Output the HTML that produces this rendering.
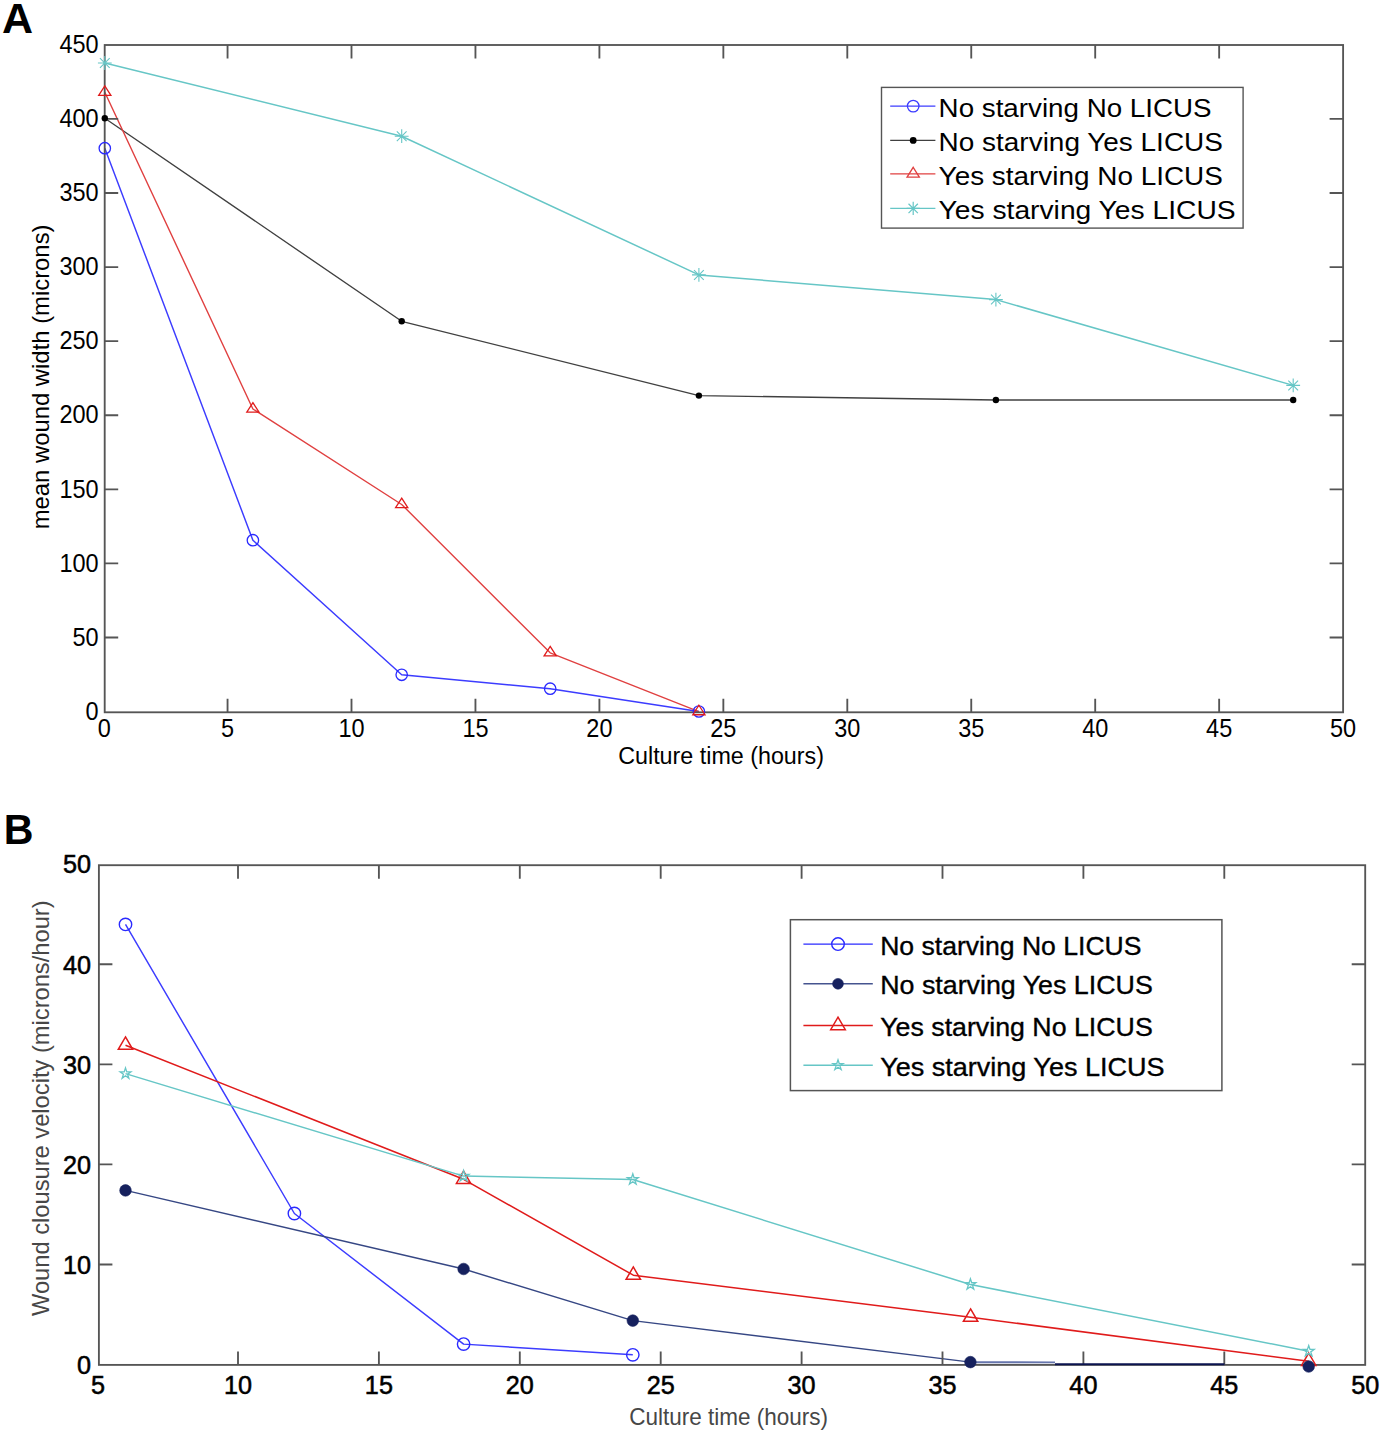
<!DOCTYPE html>
<html><head><meta charset="utf-8"><title>Wound closure charts</title>
<style>
html,body{margin:0;padding:0;background:#fff;width:1382px;height:1433px;overflow:hidden;}
svg{display:block;}
text{font-family:"Liberation Sans",sans-serif;}
</style></head><body>
<svg width="1382" height="1433" viewBox="0 0 1382 1433" font-family="Liberation Sans, sans-serif">
<rect x="0" y="0" width="1382" height="1433" fill="#ffffff"/>
<polyline points="104.80,148.20 252.90,540.20 401.70,674.80 550.20,688.70 698.90,711.50" fill="none" stroke="#3c3cff" stroke-width="1.45" stroke-linejoin="round"/>
<polyline points="104.80,118.20 401.70,321.30 698.90,395.60 995.90,400.00 1293.20,400.00" fill="none" stroke="#404040" stroke-width="1.35" stroke-linejoin="round"/>
<polyline points="104.80,92.20 252.90,409.00 401.70,504.50 550.20,652.80 698.90,711.60" fill="none" stroke="#e04040" stroke-width="1.4" stroke-linejoin="round"/>
<polyline points="104.80,63.00 401.70,136.20 698.90,274.90 995.90,299.60 1293.20,385.40" fill="none" stroke="#66c6c6" stroke-width="1.5" stroke-linejoin="round"/>
<rect x="104.7" y="45.0" width="1238.40" height="667.30" fill="none" stroke="#555555" stroke-width="1.85"/>
<path d="M227.55,712.3V698.80M227.55,45.0V58.50" stroke="#555555" stroke-width="1.85"/>
<path d="M351.50,712.3V698.80M351.50,45.0V58.50" stroke="#555555" stroke-width="1.85"/>
<path d="M475.45,712.3V698.80M475.45,45.0V58.50" stroke="#555555" stroke-width="1.85"/>
<path d="M599.40,712.3V698.80M599.40,45.0V58.50" stroke="#555555" stroke-width="1.85"/>
<path d="M723.35,712.3V698.80M723.35,45.0V58.50" stroke="#555555" stroke-width="1.85"/>
<path d="M847.30,712.3V698.80M847.30,45.0V58.50" stroke="#555555" stroke-width="1.85"/>
<path d="M971.25,712.3V698.80M971.25,45.0V58.50" stroke="#555555" stroke-width="1.85"/>
<path d="M1095.20,712.3V698.80M1095.20,45.0V58.50" stroke="#555555" stroke-width="1.85"/>
<path d="M1219.15,712.3V698.80M1219.15,45.0V58.50" stroke="#555555" stroke-width="1.85"/>
<path d="M104.7,637.51H118.20M1343.1,637.51H1329.60" stroke="#555555" stroke-width="1.85"/>
<path d="M104.7,563.42H118.20M1343.1,563.42H1329.60" stroke="#555555" stroke-width="1.85"/>
<path d="M104.7,489.33H118.20M1343.1,489.33H1329.60" stroke="#555555" stroke-width="1.85"/>
<path d="M104.7,415.24H118.20M1343.1,415.24H1329.60" stroke="#555555" stroke-width="1.85"/>
<path d="M104.7,341.15H118.20M1343.1,341.15H1329.60" stroke="#555555" stroke-width="1.85"/>
<path d="M104.7,267.06H118.20M1343.1,267.06H1329.60" stroke="#555555" stroke-width="1.85"/>
<path d="M104.7,192.97H118.20M1343.1,192.97H1329.60" stroke="#555555" stroke-width="1.85"/>
<path d="M104.7,118.88H118.20M1343.1,118.88H1329.60" stroke="#555555" stroke-width="1.85"/>
<circle cx="104.80" cy="148.20" r="5.7" fill="none" stroke="#2a2aff" stroke-width="1.3"/>
<circle cx="252.90" cy="540.20" r="5.7" fill="none" stroke="#2a2aff" stroke-width="1.3"/>
<circle cx="401.70" cy="674.80" r="5.7" fill="none" stroke="#2a2aff" stroke-width="1.3"/>
<circle cx="550.20" cy="688.70" r="5.7" fill="none" stroke="#2a2aff" stroke-width="1.3"/>
<circle cx="698.90" cy="711.50" r="5.7" fill="none" stroke="#2a2aff" stroke-width="1.3"/>
<circle cx="104.80" cy="118.20" r="3.2" fill="#000" stroke="none"/>
<circle cx="401.70" cy="321.30" r="3.2" fill="#000" stroke="none"/>
<circle cx="698.90" cy="395.60" r="3.2" fill="#000" stroke="none"/>
<circle cx="995.90" cy="400.00" r="3.2" fill="#000" stroke="none"/>
<circle cx="1293.20" cy="400.00" r="3.2" fill="#000" stroke="none"/>
<path d="M104.80,85.85 L110.90,95.37 L98.70,95.37 Z" fill="none" stroke="#e01b1b" stroke-width="1.3" stroke-linejoin="miter"/>
<path d="M252.90,402.65 L259.00,412.17 L246.80,412.17 Z" fill="none" stroke="#e01b1b" stroke-width="1.3" stroke-linejoin="miter"/>
<path d="M401.70,498.15 L407.80,507.67 L395.60,507.67 Z" fill="none" stroke="#e01b1b" stroke-width="1.3" stroke-linejoin="miter"/>
<path d="M550.20,646.45 L556.30,655.97 L544.10,655.97 Z" fill="none" stroke="#e01b1b" stroke-width="1.3" stroke-linejoin="miter"/>
<path d="M698.90,705.25 L705.00,714.77 L692.80,714.77 Z" fill="none" stroke="#e01b1b" stroke-width="1.3" stroke-linejoin="miter"/>
<path d="M97.90,63.00H111.70M104.80,56.10V69.90M99.92,58.12L109.68,67.88M99.92,67.88L109.68,58.12" stroke="#66c6c6" stroke-width="1.1" fill="none"/>
<path d="M394.80,136.20H408.60M401.70,129.30V143.10M396.82,131.32L406.58,141.08M396.82,141.08L406.58,131.32" stroke="#66c6c6" stroke-width="1.1" fill="none"/>
<path d="M692.00,274.90H705.80M698.90,268.00V281.80M694.02,270.02L703.78,279.78M694.02,279.78L703.78,270.02" stroke="#66c6c6" stroke-width="1.1" fill="none"/>
<path d="M989.00,299.60H1002.80M995.90,292.70V306.50M991.02,294.72L1000.78,304.48M991.02,304.48L1000.78,294.72" stroke="#66c6c6" stroke-width="1.1" fill="none"/>
<path d="M1286.30,385.40H1300.10M1293.20,378.50V392.30M1288.32,380.52L1298.08,390.28M1288.32,390.28L1298.08,380.52" stroke="#66c6c6" stroke-width="1.1" fill="none"/>
<text x="0" y="0" transform="translate(104.30,737.20) scale(0.94,1)" font-size="25" text-anchor="middle" fill="#000" font-weight="normal" >0</text>
<text x="0" y="0" transform="translate(227.55,737.20) scale(0.94,1)" font-size="25" text-anchor="middle" fill="#000" font-weight="normal" >5</text>
<text x="0" y="0" transform="translate(351.50,737.20) scale(0.94,1)" font-size="25" text-anchor="middle" fill="#000" font-weight="normal" >10</text>
<text x="0" y="0" transform="translate(475.45,737.20) scale(0.94,1)" font-size="25" text-anchor="middle" fill="#000" font-weight="normal" >15</text>
<text x="0" y="0" transform="translate(599.40,737.20) scale(0.94,1)" font-size="25" text-anchor="middle" fill="#000" font-weight="normal" >20</text>
<text x="0" y="0" transform="translate(723.35,737.20) scale(0.94,1)" font-size="25" text-anchor="middle" fill="#000" font-weight="normal" >25</text>
<text x="0" y="0" transform="translate(847.30,737.20) scale(0.94,1)" font-size="25" text-anchor="middle" fill="#000" font-weight="normal" >30</text>
<text x="0" y="0" transform="translate(971.25,737.20) scale(0.94,1)" font-size="25" text-anchor="middle" fill="#000" font-weight="normal" >35</text>
<text x="0" y="0" transform="translate(1095.20,737.20) scale(0.94,1)" font-size="25" text-anchor="middle" fill="#000" font-weight="normal" >40</text>
<text x="0" y="0" transform="translate(1219.15,737.20) scale(0.94,1)" font-size="25" text-anchor="middle" fill="#000" font-weight="normal" >45</text>
<text x="0" y="0" transform="translate(1343.10,737.20) scale(0.94,1)" font-size="25" text-anchor="middle" fill="#000" font-weight="normal" >50</text>
<text x="0" y="0" transform="translate(98.60,719.80) scale(0.94,1)" font-size="25" text-anchor="end" fill="#000" font-weight="normal" >0</text>
<text x="0" y="0" transform="translate(98.60,645.71) scale(0.94,1)" font-size="25" text-anchor="end" fill="#000" font-weight="normal" >50</text>
<text x="0" y="0" transform="translate(98.60,571.62) scale(0.94,1)" font-size="25" text-anchor="end" fill="#000" font-weight="normal" >100</text>
<text x="0" y="0" transform="translate(98.60,497.53) scale(0.94,1)" font-size="25" text-anchor="end" fill="#000" font-weight="normal" >150</text>
<text x="0" y="0" transform="translate(98.60,423.44) scale(0.94,1)" font-size="25" text-anchor="end" fill="#000" font-weight="normal" >200</text>
<text x="0" y="0" transform="translate(98.60,349.35) scale(0.94,1)" font-size="25" text-anchor="end" fill="#000" font-weight="normal" >250</text>
<text x="0" y="0" transform="translate(98.60,275.26) scale(0.94,1)" font-size="25" text-anchor="end" fill="#000" font-weight="normal" >300</text>
<text x="0" y="0" transform="translate(98.60,201.17) scale(0.94,1)" font-size="25" text-anchor="end" fill="#000" font-weight="normal" >350</text>
<text x="0" y="0" transform="translate(98.60,127.08) scale(0.94,1)" font-size="25" text-anchor="end" fill="#000" font-weight="normal" >400</text>
<text x="0" y="0" transform="translate(98.60,52.99) scale(0.94,1)" font-size="25" text-anchor="end" fill="#000" font-weight="normal" >450</text>
<text x="618.20" y="763.60" font-size="23.5" text-anchor="start" fill="#000" font-weight="normal" textLength="205.80" lengthAdjust="spacingAndGlyphs" >Culture time (hours)</text>
<text x="0" y="0" font-size="24" transform="translate(48.6,529.3) rotate(-90)" textLength="304.8" lengthAdjust="spacingAndGlyphs" fill="#000">mean wound width (microns)</text>
<text x="1.90" y="32.60" font-size="43" text-anchor="start" fill="#000" font-weight="bold" >A</text>
<rect x="881.5" y="87.4" width="361.60" height="140.70" fill="#fff" stroke="#555555" stroke-width="1.4"/>
<path d="M890.2,106.10H935.4" stroke="#3c3cff" stroke-width="1.4"/>
<circle cx="913.20" cy="106.10" r="5.8" fill="none" stroke="#3c3cff" stroke-width="1.3"/>
<text x="938.60" y="116.80" font-size="25.6" text-anchor="start" fill="#000" font-weight="normal" textLength="273.00" lengthAdjust="spacingAndGlyphs" >No starving No LICUS</text>
<path d="M890.2,140.40H935.4" stroke="#404040" stroke-width="1.4"/>
<circle cx="913.20" cy="140.40" r="3.4" fill="#000" stroke="none"/>
<text x="938.60" y="151.10" font-size="25.6" text-anchor="start" fill="#000" font-weight="normal" textLength="284.30" lengthAdjust="spacingAndGlyphs" >No starving Yes LICUS</text>
<path d="M890.2,173.90H935.4" stroke="#e04040" stroke-width="1.4"/>
<path d="M913.20,167.34 L919.35,177.18 L907.05,177.18 Z" fill="none" stroke="#e04040" stroke-width="1.3" stroke-linejoin="miter"/>
<text x="938.60" y="184.60" font-size="25.6" text-anchor="start" fill="#000" font-weight="normal" textLength="284.30" lengthAdjust="spacingAndGlyphs" >Yes starving No LICUS</text>
<path d="M890.2,208.40H935.4" stroke="#66c6c6" stroke-width="1.4"/>
<path d="M906.60,208.40H919.80M913.20,201.80V215.00M908.53,203.73L917.87,213.07M908.53,213.07L917.87,203.73" stroke="#66c6c6" stroke-width="1.2" fill="none"/>
<text x="938.60" y="219.10" font-size="25.6" text-anchor="start" fill="#000" font-weight="normal" textLength="297.00" lengthAdjust="spacingAndGlyphs" >Yes starving Yes LICUS</text>
<polyline points="125.50,924.40 294.40,1213.50 463.60,1344.10 632.80,1354.80" fill="none" stroke="#3c3cff" stroke-width="1.45" stroke-linejoin="round"/>
<polyline points="125.50,1190.40 463.60,1269.00 632.80,1320.60 970.40,1362.10" fill="none" stroke="#364784" stroke-width="1.45" stroke-linejoin="round"/>
<polyline points="125.50,1045.20 463.60,1179.30 633.30,1275.20 970.60,1317.20 1308.70,1361.30" fill="none" stroke="#e01b1b" stroke-width="1.5" stroke-linejoin="round"/>
<polyline points="125.50,1073.60 463.60,1176.10 632.80,1179.50 970.40,1284.50 1308.70,1351.20" fill="none" stroke="#66c6c6" stroke-width="1.5" stroke-linejoin="round"/>
<rect x="98.9" y="865.2" width="1266.30" height="499.70" fill="none" stroke="#555555" stroke-width="1.85"/>
<path d="M238.00,1364.9V1351.40M238.00,865.2V878.70" stroke="#555555" stroke-width="1.85"/>
<path d="M378.90,1364.9V1351.40M378.90,865.2V878.70" stroke="#555555" stroke-width="1.85"/>
<path d="M519.80,1364.9V1351.40M519.80,865.2V878.70" stroke="#555555" stroke-width="1.85"/>
<path d="M660.70,1364.9V1351.40M660.70,865.2V878.70" stroke="#555555" stroke-width="1.85"/>
<path d="M801.60,1364.9V1351.40M801.60,865.2V878.70" stroke="#555555" stroke-width="1.85"/>
<path d="M942.50,1364.9V1351.40M942.50,865.2V878.70" stroke="#555555" stroke-width="1.85"/>
<path d="M1083.40,1364.9V1351.40M1083.40,865.2V878.70" stroke="#555555" stroke-width="1.85"/>
<path d="M1224.30,1364.9V1351.40M1224.30,865.2V878.70" stroke="#555555" stroke-width="1.85"/>
<path d="M98.9,1264.50H112.40M1365.2,1264.50H1351.70" stroke="#555555" stroke-width="1.85"/>
<path d="M98.9,1164.40H112.40M1365.2,1164.40H1351.70" stroke="#555555" stroke-width="1.85"/>
<path d="M98.9,1064.30H112.40M1365.2,1064.30H1351.70" stroke="#555555" stroke-width="1.85"/>
<path d="M98.9,964.20H112.40M1365.2,964.20H1351.70" stroke="#555555" stroke-width="1.85"/>
<path d="M970.4,1362.2 L1055,1362.4" stroke="#6675ad" stroke-width="1.9"/>
<path d="M1055,1364.2 L1224.5,1364.2" stroke="#0c1450" stroke-width="2.1"/>
<circle cx="125.50" cy="924.40" r="6.2" fill="none" stroke="#2a2aff" stroke-width="1.4"/>
<circle cx="294.40" cy="1213.50" r="6.2" fill="none" stroke="#2a2aff" stroke-width="1.4"/>
<circle cx="463.60" cy="1344.10" r="6.2" fill="none" stroke="#2a2aff" stroke-width="1.4"/>
<circle cx="632.80" cy="1354.80" r="6.2" fill="none" stroke="#2a2aff" stroke-width="1.4"/>
<path d="M125.50,1036.94 L132.70,1049.32 L118.30,1049.32 Z" fill="none" stroke="#e01b1b" stroke-width="1.5" stroke-linejoin="miter"/>
<path d="M463.60,1171.04 L470.80,1183.42 L456.40,1183.42 Z" fill="none" stroke="#e01b1b" stroke-width="1.5" stroke-linejoin="miter"/>
<path d="M633.30,1266.94 L640.50,1279.32 L626.10,1279.32 Z" fill="none" stroke="#e01b1b" stroke-width="1.5" stroke-linejoin="miter"/>
<path d="M970.60,1308.94 L977.80,1321.32 L963.40,1321.32 Z" fill="none" stroke="#e01b1b" stroke-width="1.5" stroke-linejoin="miter"/>
<path d="M1308.70,1353.04 L1315.90,1365.42 L1301.50,1365.42 Z" fill="none" stroke="#e01b1b" stroke-width="1.5" stroke-linejoin="miter"/>
<circle cx="125.50" cy="1190.40" r="5.8" fill="#16215e" stroke="#16215e" stroke-width="0.6"/>
<circle cx="463.60" cy="1269.00" r="5.8" fill="#16215e" stroke="#16215e" stroke-width="0.6"/>
<circle cx="632.80" cy="1320.60" r="5.8" fill="#16215e" stroke="#16215e" stroke-width="0.6"/>
<circle cx="970.40" cy="1362.10" r="5.8" fill="#16215e" stroke="#16215e" stroke-width="0.6"/>
<circle cx="1308.70" cy="1366.50" r="5.8" fill="#16215e" stroke="#16215e" stroke-width="0.6"/>
<polygon points="125.50,1067.90 126.78,1071.84 130.92,1071.84 127.57,1074.27 128.85,1078.21 125.50,1075.78 122.15,1078.21 123.43,1074.27 120.08,1071.84 124.22,1071.84" fill="none" stroke="#66c6c6" stroke-width="1.3"/>
<polygon points="463.60,1170.40 464.88,1174.34 469.02,1174.34 465.67,1176.77 466.95,1180.71 463.60,1178.28 460.25,1180.71 461.53,1176.77 458.18,1174.34 462.32,1174.34" fill="none" stroke="#66c6c6" stroke-width="1.3"/>
<polygon points="632.80,1173.80 634.08,1177.74 638.22,1177.74 634.87,1180.17 636.15,1184.11 632.80,1181.68 629.45,1184.11 630.73,1180.17 627.38,1177.74 631.52,1177.74" fill="none" stroke="#66c6c6" stroke-width="1.3"/>
<polygon points="970.40,1278.80 971.68,1282.74 975.82,1282.74 972.47,1285.17 973.75,1289.11 970.40,1286.68 967.05,1289.11 968.33,1285.17 964.98,1282.74 969.12,1282.74" fill="none" stroke="#66c6c6" stroke-width="1.3"/>
<polygon points="1308.70,1345.50 1309.98,1349.44 1314.12,1349.44 1310.77,1351.87 1312.05,1355.81 1308.70,1353.38 1305.35,1355.81 1306.63,1351.87 1303.28,1349.44 1307.42,1349.44" fill="none" stroke="#66c6c6" stroke-width="1.3"/>
<text x="0" y="0" transform="translate(98.00,1394.00) scale(0.97,1)" font-size="26" text-anchor="middle" fill="#000" font-weight="normal" stroke="#000" stroke-width="0.55">5</text>
<text x="0" y="0" transform="translate(238.00,1394.00) scale(0.97,1)" font-size="26" text-anchor="middle" fill="#000" font-weight="normal" stroke="#000" stroke-width="0.55">10</text>
<text x="0" y="0" transform="translate(378.90,1394.00) scale(0.97,1)" font-size="26" text-anchor="middle" fill="#000" font-weight="normal" stroke="#000" stroke-width="0.55">15</text>
<text x="0" y="0" transform="translate(519.80,1394.00) scale(0.97,1)" font-size="26" text-anchor="middle" fill="#000" font-weight="normal" stroke="#000" stroke-width="0.55">20</text>
<text x="0" y="0" transform="translate(660.70,1394.00) scale(0.97,1)" font-size="26" text-anchor="middle" fill="#000" font-weight="normal" stroke="#000" stroke-width="0.55">25</text>
<text x="0" y="0" transform="translate(801.60,1394.00) scale(0.97,1)" font-size="26" text-anchor="middle" fill="#000" font-weight="normal" stroke="#000" stroke-width="0.55">30</text>
<text x="0" y="0" transform="translate(942.50,1394.00) scale(0.97,1)" font-size="26" text-anchor="middle" fill="#000" font-weight="normal" stroke="#000" stroke-width="0.55">35</text>
<text x="0" y="0" transform="translate(1083.40,1394.00) scale(0.97,1)" font-size="26" text-anchor="middle" fill="#000" font-weight="normal" stroke="#000" stroke-width="0.55">40</text>
<text x="0" y="0" transform="translate(1224.30,1394.00) scale(0.97,1)" font-size="26" text-anchor="middle" fill="#000" font-weight="normal" stroke="#000" stroke-width="0.55">45</text>
<text x="0" y="0" transform="translate(1365.20,1394.00) scale(0.97,1)" font-size="26" text-anchor="middle" fill="#000" font-weight="normal" stroke="#000" stroke-width="0.55">50</text>
<text x="0" y="0" transform="translate(91.00,1373.90) scale(0.97,1)" font-size="26" text-anchor="end" fill="#000" font-weight="normal" stroke="#000" stroke-width="0.55">0</text>
<text x="0" y="0" transform="translate(91.00,1273.80) scale(0.97,1)" font-size="26" text-anchor="end" fill="#000" font-weight="normal" stroke="#000" stroke-width="0.55">10</text>
<text x="0" y="0" transform="translate(91.00,1173.70) scale(0.97,1)" font-size="26" text-anchor="end" fill="#000" font-weight="normal" stroke="#000" stroke-width="0.55">20</text>
<text x="0" y="0" transform="translate(91.00,1073.60) scale(0.97,1)" font-size="26" text-anchor="end" fill="#000" font-weight="normal" stroke="#000" stroke-width="0.55">30</text>
<text x="0" y="0" transform="translate(91.00,973.50) scale(0.97,1)" font-size="26" text-anchor="end" fill="#000" font-weight="normal" stroke="#000" stroke-width="0.55">40</text>
<text x="0" y="0" transform="translate(91.00,873.40) scale(0.97,1)" font-size="26" text-anchor="end" fill="#000" font-weight="normal" stroke="#000" stroke-width="0.55">50</text>
<text x="629.20" y="1424.60" font-size="24" text-anchor="start" fill="#474747" font-weight="normal" textLength="198.80" lengthAdjust="spacingAndGlyphs" >Culture time (hours)</text>
<text x="0" y="0" font-size="24" transform="translate(48.9,1316.0) rotate(-90)" textLength="415.6" lengthAdjust="spacingAndGlyphs" fill="#474747">Wound clousure velocity (microns/hour)</text>
<text x="0" y="0" transform="translate(3.80,844.20) scale(0.98,1)" font-size="42" text-anchor="start" fill="#000" font-weight="bold" >B</text>
<rect x="790.4" y="919.7" width="431.50" height="170.90" fill="#fff" stroke="#555555" stroke-width="1.5"/>
<path d="M803.4,944.10H872.8" stroke="#2a2aff" stroke-width="1.4"/>
<circle cx="838.00" cy="944.10" r="6.3" fill="none" stroke="#2a2aff" stroke-width="1.4"/>
<text x="880.20" y="954.50" font-size="25.6" text-anchor="start" fill="#000" font-weight="normal" textLength="261.30" lengthAdjust="spacingAndGlyphs" stroke="#000" stroke-width="0.35">No starving No LICUS</text>
<path d="M803.4,983.80H872.8" stroke="#45548f" stroke-width="1.4"/>
<circle cx="838.00" cy="983.80" r="5.4" fill="#16215e" stroke="#16215e" stroke-width="0.6"/>
<text x="880.20" y="994.20" font-size="25.6" text-anchor="start" fill="#000" font-weight="normal" textLength="272.60" lengthAdjust="spacingAndGlyphs" stroke="#000" stroke-width="0.35">No starving Yes LICUS</text>
<path d="M803.4,1025.50H872.8" stroke="#e01b1b" stroke-width="1.4"/>
<path d="M838.00,1017.22 L845.30,1029.63 L830.70,1029.63 Z" fill="none" stroke="#e01b1b" stroke-width="1.5" stroke-linejoin="miter"/>
<text x="880.20" y="1035.90" font-size="25.6" text-anchor="start" fill="#000" font-weight="normal" textLength="272.60" lengthAdjust="spacingAndGlyphs" stroke="#000" stroke-width="0.35">Yes starving No LICUS</text>
<path d="M803.4,1065.20H872.8" stroke="#66c6c6" stroke-width="1.4"/>
<polygon points="838.00,1059.80 839.21,1063.53 843.14,1063.53 839.96,1065.84 841.17,1069.57 838.00,1067.26 834.83,1069.57 836.04,1065.84 832.86,1063.53 836.79,1063.53" fill="none" stroke="#66c6c6" stroke-width="1.3"/>
<text x="880.20" y="1075.60" font-size="25.6" text-anchor="start" fill="#000" font-weight="normal" textLength="284.30" lengthAdjust="spacingAndGlyphs" stroke="#000" stroke-width="0.35">Yes starving Yes LICUS</text>
</svg>
</body></html>
